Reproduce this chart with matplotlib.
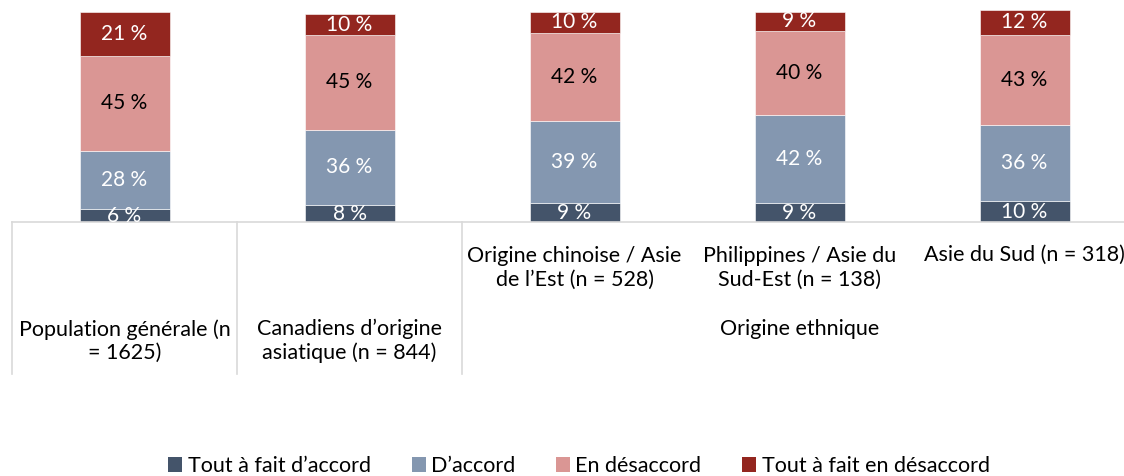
import matplotlib.pyplot as plt
from matplotlib.patches import Patch

plt.rcParams['font.family'] = ['Lato', 'DejaVu Sans']

# data
categories = ["Population générale (n\n= 1625)",
              "Canadiens d’origine\nasiatique (n = 844)",
              "Origine chinoise / Asie\nde l’Est (n = 528)",
              "Philippines / Asie du\nSud-Est (n = 138)",
              "Asie du Sud (n = 318)"]
group_label = "Origine ethnique"
series = ["Tout à fait d’accord", "D’accord", "En désaccord",
          "Tout à fait en désaccord"]
tout_accord = [6, 8, 9, 9, 10]
accord = [28, 36, 39, 42, 36]
desaccord = [45, 45, 42, 40, 43]
tout_desaccord = [21, 10, 10, 9, 12]

values = [tout_accord, accord, desaccord, tout_desaccord]
colors = ["#44546A", "#8497B0", "#DA9694", "#93261F"]
text_colors = ["white", "white", "black", "white"]

W, H = 1124, 476
fig = plt.figure(figsize=(W / 100, H / 100), dpi=100)
ax = fig.add_axes([12 / W, (H - 222) / H, 1112 / W, 222 / H])

x = list(range(len(categories)))
bottom = [0] * len(categories)
for vals, col, tcol in zip(values, colors, text_colors):
    ax.bar(x, vals, width=0.4, bottom=bottom, color=col,
           edgecolor="white", linewidth=0.4)
    for xi, b, v in zip(x, bottom, vals):
        ax.text(xi, b + v / 2, f"{v} %", ha="center", va="center",
                fontsize=15, color=tcol, clip_on=True)
    bottom = [b + v for b, v in zip(bottom, vals)]

ax.set_xlim(-0.5, -0.5 + 1112 / 225)
ax.set_ylim(0, 222 / 2.1)
ax.axis("off")

# category axis drawn as a table
grey = "#D9D9D9"
ax.plot([0, 1], [0, 0], transform=ax.transAxes, color=grey, lw=1.2,
        clip_on=False)
trans = ax.get_xaxis_transform()
for sep in [-0.5, 0.5, 1.5]:
    ax.plot([sep, sep], [0, -152 / 222], transform=trans, color=grey,
            lw=1.2, clip_on=False)

for i, lab in enumerate(categories):
    if i < 2:
        y = -(341 - 222) / 222
    else:
        y = -(268 - 222) / 222 if "\n" in lab else -(255 - 222) / 222
    ax.text(i, y, lab, transform=trans, ha="center", va="center",
            fontsize=15.5, linespacing=1.2, color="black")
ax.text(3, -(329 - 222) / 222, group_label, transform=trans,
        ha="center", va="center", fontsize=15.5, color="black")

handles = [Patch(facecolor=c, edgecolor="none") for c in colors]
fig.legend(handles, series, loc="center", ncol=4,
           bbox_to_anchor=(579 / W, 1 - 466 / H), frameon=False,
           fontsize=15.5, handlelength=0.65, handleheight=0.65,
           handletextpad=0.25, columnspacing=1.9)

fig.savefig("out.png", dpi=100)
